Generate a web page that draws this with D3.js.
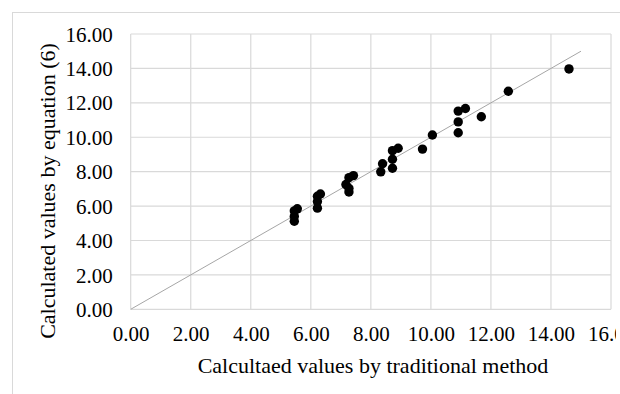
<!DOCTYPE html>
<html>
<head>
<meta charset="utf-8">
<script src="https://cdn.jsdelivr.net/npm/d3@7"></script>
<style>
  body { margin: 0; background: #fff; }
  svg, svg text { font-family: "Times New Roman", "Liberation Serif", Times, "DejaVu Serif", serif !important; }
</style>
</head>
<body>
<div id="chart"></div>
<script>
// values
const traditional = [5.55, 5.45, 5.45, 5.45, 6.32, 6.22, 6.22, 6.22, 7.42, 7.27, 7.17, 7.27, 7.27,
  8.39, 8.33, 8.72, 8.72, 8.72, 8.91, 9.72, 10.05, 10.91, 10.91, 10.91, 11.15, 11.68, 12.58, 14.6];
const equation6 = [5.84, 5.72, 5.40, 5.12, 6.70, 6.57, 6.26, 5.88, 7.77, 7.65, 7.25, 7.03, 6.82,
  8.46, 7.99, 9.22, 8.72, 8.20, 9.36, 9.31, 10.13, 11.52, 10.89, 10.26, 11.67, 11.19, 12.67, 13.97];
const tickValues = [0, 2, 4, 6, 8, 10, 12, 14, 16];
const diagonal = [0, 15];

const width = 620;
const height = 394;
const margin = { top: 34, right: 9, bottom: 84.7, left: 130.7 };

const x = d3.scaleLinear().domain([0, 16]).range([margin.left, width - margin.right]);
const y = d3.scaleLinear().domain([0, 16]).range([height - margin.bottom, margin.top]);
const fmt = d3.format(".2f");

const svg = d3.select("#chart")
  .append("svg")
  .attr("width", width)
  .attr("height", height);

// the source picture is cropped just right of the plot, cutting the last x label
svg.append("clipPath")
  .attr("id", "crop")
  .append("rect")
  .attr("x", 0).attr("y", 0)
  .attr("width", 616).attr("height", height);

// chart area border (runs off the right and bottom edges like the source)
svg.append("rect")
  .attr("x", 12.5)
  .attr("y", 12.5)
  .attr("width", 700)
  .attr("height", 500)
  .attr("fill", "none")
  .attr("stroke", "#d9d9d9");

// gridlines
const grid = svg.append("g").attr("stroke", "#d9d9d9").attr("stroke-width", 1.2);
grid.selectAll(".vx")
  .data(tickValues)
  .join("line")
  .attr("x1", (d) => x(d)).attr("x2", (d) => x(d))
  .attr("y1", y(0)).attr("y2", y(16));
grid.selectAll(".hy")
  .data(tickValues)
  .join("line")
  .attr("x1", x(0)).attr("x2", x(16))
  .attr("y1", (d) => y(d)).attr("y2", (d) => y(d));

// axes, labels only
svg.append("g")
  .attr("clip-path", "url(#crop)")
  .append("g")
  .attr("transform", `translate(0,${y(0) + 14})`)
  .call(d3.axisBottom(x).tickValues(tickValues).tickFormat(fmt).tickSize(0))
  .call((g) => g.select(".domain").remove())
  .call((g) => g.attr("font-family", null).attr("font-size", 21))
  .call((g) => g.selectAll("text")
    .attr("fill", "#000")
    .attr("dy", "0.71em"));

svg.append("g")
  .attr("transform", `translate(${x(0) - 18},0)`)
  .call(d3.axisLeft(y).tickValues(tickValues).tickFormat(fmt).tickSize(0).tickPadding(0))
  .call((g) => g.select(".domain").remove())
  .call((g) => g.attr("font-family", null).attr("font-size", 21))
  .call((g) => g.selectAll("text")
    .attr("fill", "#000")
    .attr("dy", "0.34em"));

// 1:1 reference line
svg.append("line")
  .attr("x1", x(diagonal[0])).attr("y1", y(diagonal[0]))
  .attr("x2", x(diagonal[1])).attr("y2", y(diagonal[1]))
  .attr("stroke", "#a6a6a6")
  .attr("stroke-width", 1);

// points
svg.append("g")
  .selectAll("circle")
  .data(d3.zip(traditional, equation6))
  .join("circle")
  .attr("cx", (d) => x(d[0]))
  .attr("cy", (d) => y(d[1]))
  .attr("r", 4.7)
  .attr("fill", "#000");

// axis titles
svg.append("text")
  .attr("x", 373)
  .attr("y", 373)
  .attr("text-anchor", "middle")
  .attr("font-size", 22)
  .text("Calcultaed values by traditional method");

svg.append("text")
  .attr("transform", `translate(55,191) rotate(-90)`)
  .attr("text-anchor", "middle")
  .attr("font-size", 22)
  .text("Calculated values by equation (6)");
</script>
</body>
</html>
